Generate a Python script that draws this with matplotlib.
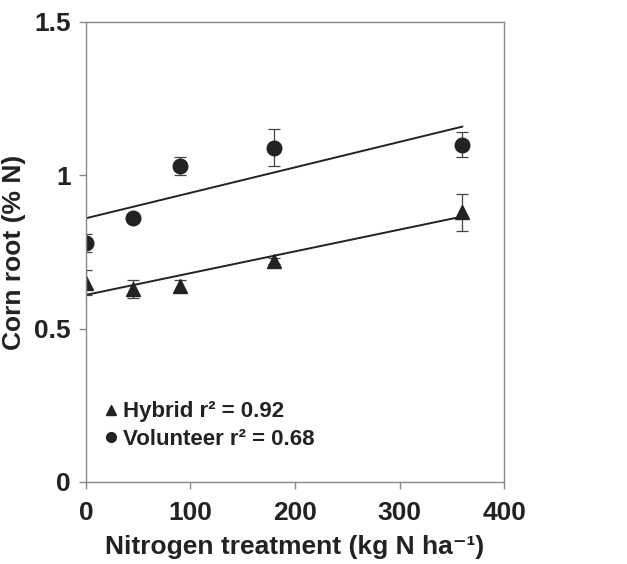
import matplotlib.pyplot as plt
from matplotlib.lines import Line2D

plt.rcParams['font.family'] = ['Liberation Sans', 'DejaVu Sans']
plt.rcParams['font.weight'] = 'bold'
plt.rcParams['axes.labelweight'] = 'bold'

nitrogen = [0, 45, 90, 180, 360]

hybrid = [0.65, 0.63, 0.64, 0.72, 0.88]
hybrid_err = [0.04, 0.03, 0.02, 0.01, 0.06]
volunteer = [0.78, 0.86, 1.03, 1.09, 1.10]
volunteer_err = [0.03, 0.01, 0.03, 0.06, 0.04]

# regression lines (intercept, slope) as drawn in the figure
hybrid_fit = (0.61, 0.00071)
volunteer_fit = (0.86, 0.00083)
fit_x = [0, 360]

ink = '#222222'
spine = '#888888'

fig = plt.figure(figsize=(6.27, 5.64), dpi=100)
ax = fig.add_axes([0.137, 0.1454, 0.667, 0.8156])

ax.errorbar(nitrogen, volunteer, yerr=volunteer_err, fmt='o', color=ink, ms=10.5,
            ecolor='#444444', elinewidth=0.9, capsize=4, capthick=0.9)
ax.errorbar(nitrogen, hybrid, yerr=hybrid_err, fmt='^', color=ink, ms=10.5,
            ecolor='#444444', elinewidth=0.9, capsize=4, capthick=0.9)

for b, m in [hybrid_fit, volunteer_fit]:
    ax.plot(fit_x, [b + m * x for x in fit_x], color=ink, lw=1.4)

ax.set_xlim(0, 400)
ax.set_ylim(0, 1.5)
ax.set_xticks([0, 100, 200, 300, 400])
ax.set_yticks([0, 0.5, 1, 1.5])
ax.set_yticklabels(['0', '0.5', '1', '1.5'])
ax.tick_params(direction='out', length=5, width=1, color=spine, labelsize=19,
               labelcolor=ink)
ax.tick_params(axis='x', pad=9)
ax.tick_params(axis='y', pad=6)
for s in ax.spines.values():
    s.set_color(spine)
    s.set_linewidth(1)

ax.set_xlabel('Nitrogen treatment (kg N ha⁻¹)', fontsize=19,
              color=ink, labelpad=7)
ax.set_ylabel('Corn root (% N)', fontsize=19, color=ink, labelpad=6)

handles = [Line2D([], [], marker='^', ls='none', color=ink, ms=7),
           Line2D([], [], marker='o', ls='none', color=ink, ms=7)]
labels = ['Hybrid r² = 0.92', 'Volunteer r² = 0.68']
leg = ax.legend(handles, labels, loc='lower left', bbox_to_anchor=(0.025, 0.05),
                frameon=False, fontsize=16, handlelength=0.5, handletextpad=0.3,
                labelspacing=0.3, borderaxespad=0)
for t in leg.get_texts():
    t.set_color(ink)

fig.savefig('out.png', dpi=100)
